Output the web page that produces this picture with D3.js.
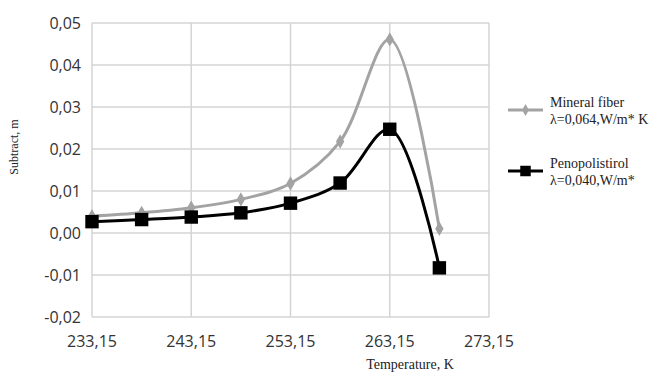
<!DOCTYPE html>
<html>
<head>
<meta charset="utf-8">
<script src="https://cdn.jsdelivr.net/npm/d3@7"></script>
<style>
  body { margin: 0; background: #fff; }
</style>
</head>
<body>
<script>
// data
var temps = [233.15, 238.15, 243.15, 248.15, 253.15, 258.15, 263.15, 268.15];
var mineral = [0.0040, 0.0048, 0.0060, 0.0080, 0.0118, 0.0218, 0.0461, 0.0010];
var peno = [0.0027, 0.0032, 0.0038, 0.0048, 0.0071, 0.0119, 0.0247, -0.0083];
var xTicks = [233.15, 243.15, 253.15, 263.15, 273.15];
var yTicks = [-0.02, -0.01, 0, 0.01, 0.02, 0.03, 0.04, 0.05];

var svg = d3.select("body").append("svg")
    .attr("width", 657)
    .attr("height", 375);

var x = d3.scaleLinear().domain([233.15, 273.15]).range([92, 489]);
var y = d3.scaleLinear().domain([-0.02, 0.05]).range([317, 23]);
var fmt = function (v, n) {
    return d3.format("." + n + "f")(v).replace(".", ",").replace("\u2212", "-");
};

// grid
svg.append("g")
    .selectAll("line")
    .data(yTicks)
    .join("line")
    .attr("x1", x.range()[0]).attr("x2", x.range()[1])
    .attr("y1", d => y(d)).attr("y2", d => y(d))
    .attr("stroke", "#d4d4d4")
    .attr("stroke-width", 1.5);
svg.append("g")
    .selectAll("line")
    .data(xTicks)
    .join("line")
    .attr("x1", d => x(d)).attr("x2", d => x(d))
    .attr("y1", y.range()[0]).attr("y2", y.range()[1])
    .attr("stroke", "#d4d4d4")
    .attr("stroke-width", 1.5);

// tick labels
svg.append("g")
    .selectAll("text")
    .data(yTicks)
    .join("text")
    .attr("x", 81)
    .attr("y", d => y(d))
    .attr("dy", "0.35em")
    .attr("text-anchor", "end")
    .style("font", "16px 'Open Sans', sans-serif")
    .attr("fill", "#333")
    .text(d => fmt(d, 2));
svg.append("g")
    .selectAll("text")
    .data(xTicks)
    .join("text")
    .attr("x", d => x(d))
    .attr("y", 341)
    .attr("dy", "0.35em")
    .attr("text-anchor", "middle")
    .style("font", "16px 'Open Sans', sans-serif")
    .attr("fill", "#333")
    .text(d => fmt(d, 2));

// axis titles
svg.append("text")
    .attr("x", 410).attr("y", 369)
    .attr("text-anchor", "middle")
    .style("font", "14px 'Liberation Serif', serif")
    .attr("fill", "#222")
    .text("Temperature, K");
svg.append("text")
    .attr("transform", "translate(18,147) rotate(-90)")
    .attr("text-anchor", "middle")
    .style("font", "12px 'Liberation Serif', serif")
    .attr("fill", "#222")
    .text("Subtract, m");

var line = d3.line().curve(d3.curveCatmullRom.alpha(0.5));
var series = [
    { name: "Mineral fiber", sub: "\u03bb=0,064,W/m* K", vals: mineral, color: "#a3a3a3", shape: "diamond", ly: 110 },
    { name: "Penopolistirol", sub: "\u03bb=0,040,W/m*", vals: peno, color: "#000", shape: "square", ly: 171 }
];

series.forEach(function (s) {
    var pts = temps.map((t, i) => [x(t), y(s.vals[i])]);
    svg.append("path")
        .attr("d", line(pts))
        .attr("fill", "none")
        .attr("stroke", s.color)
        .attr("stroke-width", 3);
    var sym = s.shape === "diamond"
        ? d3.symbol().type(d3.symbolDiamond).size(60)
        : d3.symbol().type(d3.symbolSquare).size(180);
    svg.append("g")
        .selectAll("path")
        .data(pts)
        .join("path")
        .attr("transform", d => "translate(" + d[0] + "," + d[1] + ")")
        .attr("d", sym())
        .attr("fill", s.color);

    // legend
    var lg = svg.append("g");
    lg.append("line")
        .attr("x1", 508).attr("x2", 543)
        .attr("y1", s.ly).attr("y2", s.ly)
        .attr("stroke", s.color).attr("stroke-width", 3);
    lg.append("path")
        .attr("transform", "translate(525.5," + s.ly + ")")
        .attr("d", s.shape === "diamond"
            ? d3.symbol().type(d3.symbolDiamond).size(40)()
            : d3.symbol().type(d3.symbolSquare).size(110)())
        .attr("fill", s.color);
    lg.append("text")
        .attr("x", 550).attr("y", s.ly - 3)
        .style("font", "14px 'Liberation Serif', serif")
        .attr("fill", "#222")
        .text(s.name);
    lg.append("text")
        .attr("x", 550).attr("y", s.ly + 14)
        .style("font", "14px 'Liberation Serif', serif")
        .attr("fill", "#222")
        .text(s.sub);
});
</script>
</body>
</html>
